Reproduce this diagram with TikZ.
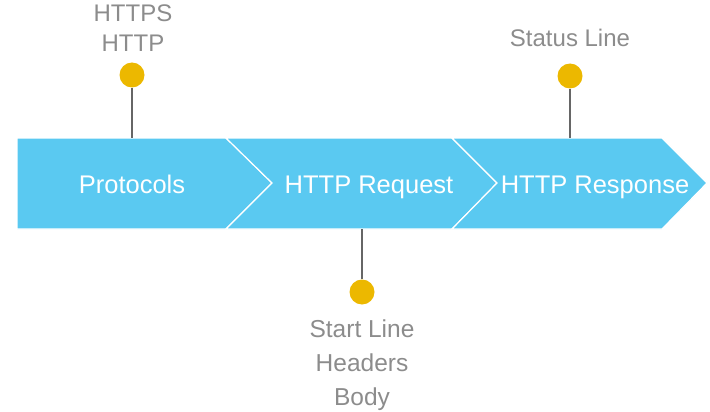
\documentclass[tikz,border=0pt]{standalone}
\usepackage{fontspec}
\setmainfont{Liberation Sans}
\definecolor{bandblue}{RGB}{90,201,241}
\definecolor{pinyellow}{RGB}{236,184,0}
\definecolor{labelgray}{RGB}{140,140,140}
\tikzset{
  segment/.style={fill=bandblue, draw=white, line width=1.2pt, line join=miter},
  steptext/.style={text=white, anchor=base, font=\fontsize{25.5}{28}\selectfont},
  pin/.style={circle, fill=pinyellow, minimum size=25pt, inner sep=0pt},
  stem/.style={draw=black!60, line width=1.2pt},
  pinlabel/.style={text=labelgray, align=center, font=\fontsize{24}{30}\selectfont},
}
\begin{document}
\begin{tikzpicture}[x=1pt, y=-1pt]
  \useasboundingbox (0,0) rectangle (710,412);

  % the three arrow segments
  \draw[segment] (17,138) -- (226,138) -- (272,183) -- (226,229) -- (17,229) -- cycle;
  \draw[segment] (226,138) -- (452,138) -- (497,183) -- (452,229) -- (226,229) -- (272,183) -- cycle;
  \draw[segment] (452,138) -- (662,138) -- (707,183) -- (662,229) -- (452,229) -- (497,183) -- cycle;

  \node[steptext] (protocols) at (132,193) {Protocols};
  \node[steptext] (request) at (369,193) {HTTP Request};
  \node[steptext] (response) at (595,193) {HTTP Response};

  % pins
  \node[pin] (pinproto) at (132,75) {};
  \coordinate (topproto) at (132,138);
  \draw[stem] (pinproto) -- (topproto);
  \node[pinlabel] (labproto) at (133,28) {HTTPS\\HTTP};

  \node[pin] (pinreq) at (362,292) {};
  \coordinate (botreq) at (362,229);
  \draw[stem] (pinreq) -- (botreq);
  \node[pinlabel, font=\fontsize{24.5}{34}\selectfont] (labreq) at (362,365) {Start Line\\Headers\\Body};

  \node[pin] (pinresp) at (570,76) {};
  \coordinate (topresp) at (570,138);
  \draw[stem] (pinresp) -- (topresp);
  \node[pinlabel] (labresp) at (570,38) {Status Line};
\end{tikzpicture}
\end{document}
